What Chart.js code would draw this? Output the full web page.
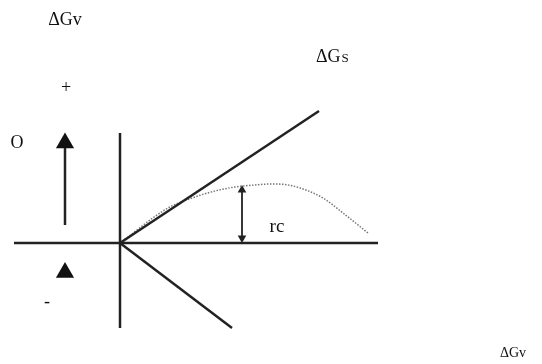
<!DOCTYPE html>
<html>
<head>
<meta charset="utf-8">
<script src="https://cdn.jsdelivr.net/npm/chart.js@4/dist/chart.umd.min.js"></script>
<style>
  html, body { margin: 0; padding: 0; background: #fff; }
  #wrap { width: 542px; height: 364px; }
</style>
</head>
<body>
<div id="wrap"><canvas id="diagram" width="542" height="364"></canvas></div>
<script>
// axes of the sketch (origin = nucleus radius 0)
const axisHX = [-106, 258];
const axisVY = [110, -85];
// surface energy line and volume energy line
const gsX = [0, 199];
const gsY = [0, 132];
const gvX = [0, 112];
const gvY = [0, -85];
// total free energy curve (dotted)
const curveX = [0, 48, 75, 95, 115, 135, 150, 165, 180, 203, 223, 248];
const curveY = [0, 35, 46, 52, 56, 58, 59, 58.5, 55, 45, 30, 10];
// critical radius marker
const rcX = 122;
const rcY = [0, 58];
// sign arrow on the left
const signX = -55;
const signY = [18, 95];
const signTip = 100;
const minusTip = -29.5;

const ink = "#222";

function pts(xs, ys) {
    return xs.map((x, i) => ({ x: x, y: ys[i] }));
}

document.addEventListener("DOMContentLoaded", function() {
    const labels = [
        { text: "\u0394Gv", x: -55, y: 223, size: 18, align: "center" },
        { text: "+", x: -54, y: 155, size: 18, align: "center" },
        { text: "O", x: -103, y: 100, size: 18, align: "center" },
        { text: "-", x: -73, y: -59, size: 18, align: "center" },
        { text: "rc", x: 157, y: 16, size: 19, align: "center" },
        { text: "\u0394G", x: 196, y: 186, size: 18, align: "left", sub: "S" },
        { text: "\u0394Gv", x: 380, y: -110, size: 14, align: "left" }
    ];

    const textPlugin = {
        id: "sketchText",
        afterDatasetsDraw(chart) {
            const c = chart.ctx;
            const sx = chart.scales.x, sy = chart.scales.y;
            c.save();
            c.fillStyle = "#111";
            c.textBaseline = "middle";
            labels.forEach(l => {
                c.font = l.size + "px 'Liberation Serif', serif";
                c.textAlign = l.align;
                const px = sx.getPixelForValue(l.x);
                const py = sy.getPixelForValue(l.y);
                c.fillText(l.text, px, py);
                if (l.sub) {
                    const w = c.measureText(l.text).width;
                    c.font = (l.size - 5) + "px 'Liberation Serif', serif";
                    c.textAlign = "left";
                    c.fillText(l.sub, px + w + 1, py + 2);
                }
            });
            c.restore();
        }
    };

    const line = (data, w) => ({
        data: data, showLine: true, borderColor: ink, borderWidth: w,
        pointRadius: 0, fill: false
    });

    new Chart(document.getElementById("diagram"), {
        type: "scatter",
        data: {
            datasets: [
                line(pts(axisHX, [0, 0]), 2.5),
                line(pts([0, 0], axisVY), 2.5),
                line(pts(gsX, gsY), 2.5),
                line(pts(gvX, gvY), 2.5),
                {
                    data: pts(curveX, curveY), showLine: true, borderColor: "#777",
                    borderWidth: 1.5, borderDash: [1.5, 1.5], pointRadius: 0,
                    cubicInterpolationMode: "monotone", fill: false
                },
                line(pts([rcX, rcX], [rcY[0] + 6, rcY[1] - 6]), 1.8),
                line(pts([signX, signX], signY), 2.5),
                {
                    data: [{ x: rcX, y: rcY[1] - 5 }, { x: rcX, y: rcY[0] + 5 }],
                    pointStyle: "triangle", pointRadius: 5, rotation: [0, 180],
                    backgroundColor: ink, borderWidth: 0
                },
                {
                    data: [{ x: signX, y: signTip }, { x: signX, y: minusTip }],
                    pointStyle: "triangle", pointRadius: 10.5,
                    backgroundColor: "#111", borderWidth: 0
                }
            ]
        },
        options: {
            responsive: false,
            animation: false,
            layout: { padding: 0, autoPadding: false },
            plugins: {
                legend: { display: false },
                tooltip: { enabled: false }
            },
            scales: {
                x: { type: "linear", min: -120, max: 422, display: false },
                y: { type: "linear", min: -121, max: 243, display: false }
            }
        },
        plugins: [textPlugin]
    });
});
</script>
</body>
</html>
